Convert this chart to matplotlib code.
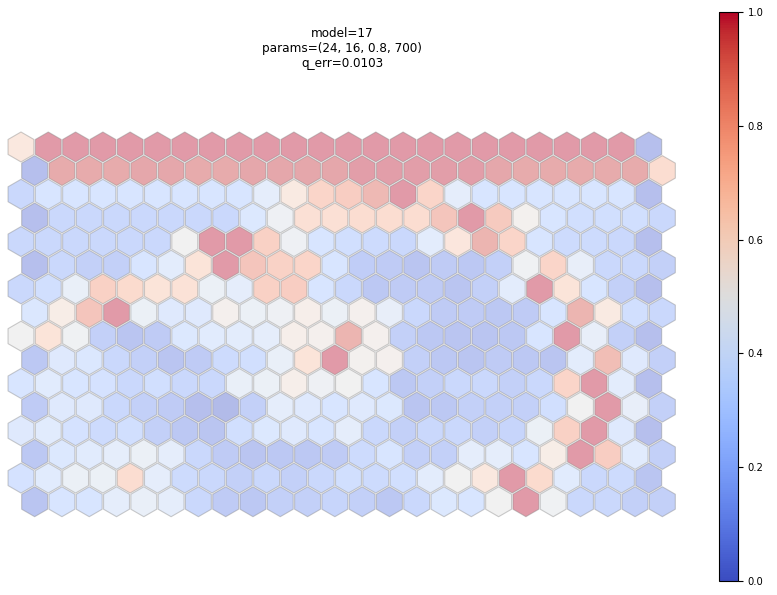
import numpy as np
import matplotlib
matplotlib.use("Agg")
import matplotlib.pyplot as plt
from matplotlib.patches import RegularPolygon
from matplotlib import cm, colors

# u-matrix values, rows listed top to bottom (24 columns x 16 rows)
row_00 = [0.62, 1.00, 1.00, 1.00, 1.00, 1.00, 1.00, 1.00, 1.00, 1.00, 1.00, 1.00,
          1.00, 1.00, 1.00, 1.00, 1.00, 1.00, 1.00, 1.00, 1.00, 1.00, 1.00, 0.05]
row_01 = [0.05, 0.96, 0.96, 0.96, 0.97, 0.97, 0.96, 0.96, 0.97, 0.97, 0.97, 0.97,
          0.99, 0.99, 0.99, 0.99, 0.99, 0.97, 0.96, 0.96, 0.96, 0.96, 0.96, 0.70]
row_02 = [0.20, 0.30, 0.30, 0.30, 0.30, 0.30, 0.30, 0.30, 0.30, 0.40, 0.60, 0.75,
          0.80, 0.90, 1.00, 0.75, 0.40, 0.30, 0.30, 0.30, 0.30, 0.30, 0.30, 0.05]
row_03 = [0.05, 0.20, 0.20, 0.20, 0.20, 0.20, 0.20, 0.20, 0.33, 0.47, 0.68, 0.68,
          0.70, 0.70, 0.70, 0.84, 1.00, 0.82, 0.52, 0.30, 0.25, 0.25, 0.25, 0.20]
row_04 = [0.20, 0.20, 0.20, 0.20, 0.20, 0.20, 0.50, 1.00, 1.00, 0.78, 0.47, 0.30,
          0.25, 0.22, 0.20, 0.38, 0.63, 0.92, 0.75, 0.30, 0.22, 0.22, 0.20, 0.05]
row_05 = [0.05, 0.20, 0.15, 0.15, 0.30, 0.38, 0.65, 1.00, 0.84, 0.77, 0.75, 0.30,
          0.13, 0.12, 0.08, 0.12, 0.10, 0.15, 0.48, 0.75, 0.42, 0.20, 0.20, 0.15]
row_06 = [0.20, 0.25, 0.43, 0.78, 0.72, 0.65, 0.67, 0.45, 0.40, 0.78, 0.80, 0.30,
          0.20, 0.10, 0.12, 0.12, 0.08, 0.15, 0.38, 1.00, 0.65, 0.30, 0.15, 0.05]
row_07 = [0.32, 0.57, 0.84, 1.00, 0.45, 0.35, 0.35, 0.53, 0.45, 0.47, 0.55, 0.45,
          0.53, 0.42, 0.20, 0.12, 0.12, 0.10, 0.12, 0.30, 0.92, 0.60, 0.25, 0.20]
row_08 = [0.50, 0.65, 0.48, 0.15, 0.08, 0.12, 0.33, 0.37, 0.38, 0.40, 0.55, 0.53,
          0.92, 0.53, 0.15, 0.10, 0.08, 0.08, 0.10, 0.30, 1.00, 0.42, 0.15, 0.05]
row_09 = [0.10, 0.35, 0.32, 0.20, 0.15, 0.08, 0.12, 0.22, 0.25, 0.43, 0.65, 1.00,
          0.52, 0.53, 0.15, 0.10, 0.08, 0.12, 0.10, 0.08, 0.38, 0.88, 0.35, 0.15]
row_10 = [0.30, 0.37, 0.30, 0.28, 0.20, 0.25, 0.20, 0.20, 0.43, 0.45, 0.55, 0.47,
          0.50, 0.30, 0.10, 0.15, 0.20, 0.20, 0.15, 0.20, 0.75, 1.00, 0.38, 0.05]
row_11 = [0.12, 0.35, 0.35, 0.20, 0.15, 0.12, 0.05, 0.02, 0.15, 0.40, 0.35, 0.30,
          0.35, 0.33, 0.08, 0.10, 0.15, 0.15, 0.15, 0.25, 0.50, 1.00, 0.42, 0.15]
row_12 = [0.35, 0.37, 0.28, 0.22, 0.25, 0.15, 0.10, 0.08, 0.25, 0.33, 0.35, 0.30,
          0.40, 0.20, 0.15, 0.20, 0.20, 0.15, 0.18, 0.45, 0.78, 1.00, 0.35, 0.05]
row_13 = [0.10, 0.33, 0.37, 0.40, 0.45, 0.40, 0.20, 0.12, 0.08, 0.10, 0.10, 0.12,
          0.22, 0.30, 0.15, 0.15, 0.40, 0.40, 0.30, 0.57, 1.00, 0.80, 0.37, 0.15]
row_14 = [0.28, 0.37, 0.45, 0.45, 0.70, 0.40, 0.22, 0.20, 0.15, 0.20, 0.15, 0.20,
          0.25, 0.22, 0.25, 0.38, 0.50, 0.62, 1.00, 0.72, 0.37, 0.20, 0.22, 0.08]
row_15 = [0.08, 0.30, 0.30, 0.40, 0.43, 0.40, 0.20, 0.12, 0.10, 0.15, 0.15, 0.18,
          0.15, 0.10, 0.20, 0.33, 0.30, 0.50, 1.00, 0.48, 0.20, 0.20, 0.15, 0.15]

umatrix = np.array([row_00, row_01, row_02, row_03, row_04, row_05, row_06, row_07,
                    row_08, row_09, row_10, row_11, row_12, row_13, row_14, row_15])

title_lines = ["model=17", "params=(24, 16, 0.8, 700)", "q_err=0.0103"]
cbar_ticks = [0.0, 0.2, 0.4, 0.6, 0.8, 1.0]

W, H = 777, 595
fig = plt.figure(figsize=(W / 100, H / 100), dpi=100)

# main axes placed so hexagons land where the reference has them
ax = fig.add_axes([7.35 / W, 1 - 517.5 / H, (676 - 7.35) / W, (517.5 - 131.2) / H])
cmap = cm.coolwarm
norm = colors.Normalize(vmin=0, vmax=1)

n_rows, n_cols = umatrix.shape
for r in range(n_rows):
    for c in range(n_cols):
        x = c + 0.5 * (r % 2)
        y = -r * np.sqrt(3) / 2
        hexagon = RegularPolygon((x, y), numVertices=6, radius=0.95 / np.sqrt(3),
                                 facecolor=cmap(norm(umatrix[r, c])), alpha=0.4,
                                 edgecolor='gray', linewidth=0.8)
        ax.add_patch(hexagon)

ax.set_xlim(-0.5, n_cols)
ax.set_ylim(-(n_rows - 1) * np.sqrt(3) / 2 - 1 / np.sqrt(3), 1 / np.sqrt(3))
ax.axis('off')

fig.text(342 / W, 1 - 27 / H, "\n".join(title_lines), ha='center', va='top',
         fontsize=8.64, linespacing=1.2)

# colorbar
cax = fig.add_axes([719 / W, 1 - 581 / H, 19 / W, 569 / H])
sm = cm.ScalarMappable(norm=norm, cmap=cmap)
cb = fig.colorbar(sm, cax=cax, ticks=cbar_ticks)
cb.ax.tick_params(labelsize=7.2)
cb.outline.set_linewidth(0.8)

fig.savefig("out.png", dpi=100)
